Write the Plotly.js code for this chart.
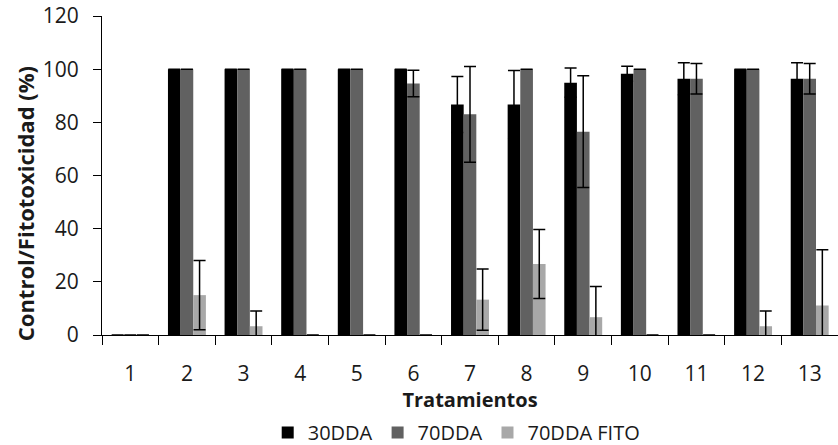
<!DOCTYPE html>
<html>
<head>
<meta charset="utf-8">
<script src="https://cdn.plot.ly/plotly-3.0.1.min.js"></script>
<style>html,body{margin:0;padding:0;background:#fff;}#chart{width:838px;height:445px;}</style>
</head>
<body>
<div id="chart"></div>
<script>
const tratamientos = ['1','2','3','4','5','6','7','8','9','10','11','12','13'];
const dda30 = [0,100,100,100,100,100,86.7,86.7,94.9,98.3,96.4,100,96.4];
const err30 = [0,0,0,0,0,0,10.5,12.8,5.5,2.8,6,0,6];
const dda70 = [0,100,100,100,100,94.6,83,100,76.5,100,96.4,100,96.4];
const err70 = [0,0,0,0,0,5,18,0,21,0,5.7,0,5.7];
const fito70 = [0,15,3.3,0,0,0,13.3,26.7,6.7,0,0,3.3,11.1];
const errFito = [0,13,5.7,0,0,0,11.5,13,11.5,0,0,5.7,21];

const FONT = 'Open Sans, Lato, Arial, sans-serif';
const TXT = '#1a1a1a';
// no error bar where the bar itself is zero
function eb(vals, errs){
  return {type:'data', array:errs.map((e,i)=> vals[i] === 0 ? null : e), visible:true,
          color:'#000', thickness:1.5, width:6};
}

const traces = [
  {type:'bar', name:'30DDA', x:tratamientos, y:dda30, error_y:eb(dda30, err30), marker:{color:'#000000'}},
  {type:'bar', name:'70DDA', x:tratamientos, y:dda70, error_y:eb(dda70, err70), marker:{color:'#616161'}},
  {type:'bar', name:'70DDA FITO', x:tratamientos, y:fito70, error_y:eb(fito70, errFito), marker:{color:'#a8a8a8'}}
];

const layout = {
  width:838, height:445,
  margin:{l:102, r:0, t:16, b:110},
  paper_bgcolor:'#fff', plot_bgcolor:'#fff',
  barmode:'group', bargap:0.33, bargroupgap:0,
  font:{family:FONT, color:TXT, size:21},
  showlegend:true,
  legend:{orientation:'h', xref:'container', yref:'container', x:0.545, xanchor:'center', y:0.028, yanchor:'middle',
          font:{family:FONT, size:20, color:TXT}, itemwidth:30, traceorder:'normal'},
  xaxis:{type:'category', tickson:'boundaries', ticks:'outside', ticklen:9, tickcolor:'#000', tickwidth:1,
         showline:true, linecolor:'#000', linewidth:1, showgrid:false, zeroline:false, automargin:true,
         tickfont:{family:FONT, size:21, color:TXT}, ticklabelstandoff:20,
         title:{text:'<b>Tratamientos</b>', font:{family:FONT, size:20, color:TXT}, standoff:10}},
  yaxis:{range:[0,120], dtick:20, ticks:'outside', ticklen:8, tickcolor:'#000', tickwidth:1,
         showline:true, linecolor:'#000', linewidth:1, showgrid:false, zeroline:false, automargin:false,
         tickfont:{family:FONT, size:21, color:TXT}, ticklabelstandoff:10},
  annotations:[{text:'<b>Control/Fitotoxicidad (%)</b>', textangle:-90, xref:'paper', yref:'paper',
                x:-0.1046, y:0.41, xanchor:'center', yanchor:'middle', showarrow:false,
                font:{family:FONT, size:22, color:TXT}}]
};

Plotly.newPlot('chart', traces, layout, {displayModeBar:false, staticPlot:true});
</script>
</body>
</html>
